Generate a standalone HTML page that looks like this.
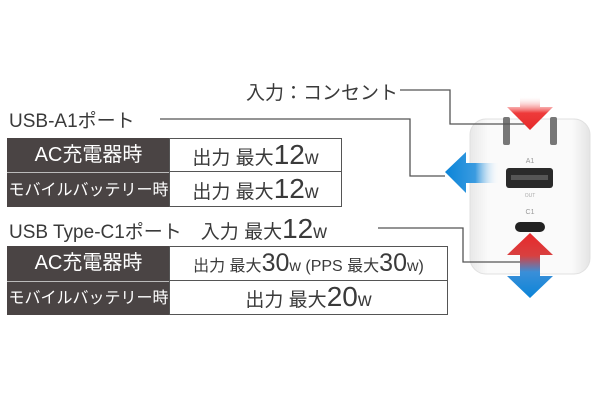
<!DOCTYPE html>
<html><head><meta charset="utf-8"><style>
body{margin:0;width:600px;height:400px;background:#fff;position:relative;overflow:hidden;font-family:"Liberation Sans","Noto Sans CJK JP",sans-serif;color:#3a3a3a}
.t{position:absolute;white-space:nowrap}
.dk{position:absolute;background:#4a4444;color:#fff;text-align:center;font-size:19px;box-sizing:border-box}
.wh{position:absolute;background:#fff;border:1.5px solid #555;text-align:center;box-sizing:border-box;color:#3a3a3a;font-size:19px}
.b{font-size:28px}
</style></head><body>
<svg width="600" height="400" style="position:absolute;left:0;top:0">
<defs>
<linearGradient id="bl" x1="0" x2="1"><stop offset="0" stop-color="#0a84d8"/><stop offset="0.55" stop-color="#3a9be0"/><stop offset="1" stop-color="#fff" stop-opacity="0"/></linearGradient>
<linearGradient id="rd" x1="0" y1="0" x2="0" y2="1"><stop offset="0" stop-color="#fff" stop-opacity="0"/><stop offset="0.5" stop-color="#ee3a3a"/><stop offset="1" stop-color="#e52a2a"/></linearGradient>
<linearGradient id="ud" x1="0" y1="0" x2="0" y2="1"><stop offset="0" stop-color="#e8282a"/><stop offset="0.35" stop-color="#d84040"/><stop offset="0.6" stop-color="#3a8fd8"/><stop offset="1" stop-color="#0a84d8"/></linearGradient>
<linearGradient id="body" x1="0" x2="1"><stop offset="0" stop-color="#e8e8e8"/><stop offset="0.15" stop-color="#fafafa"/><stop offset="0.85" stop-color="#fafafa"/><stop offset="1" stop-color="#e4e4e4"/></linearGradient>
</defs>
<rect x="470" y="119" width="120" height="155" rx="16" fill="url(#body)" stroke="#e0e0e0"/>
<rect x="503" y="117" width="7" height="28" rx="2" fill="#777"/>
<rect x="550" y="117" width="7" height="28" rx="2" fill="#777"/>
<text x="530" y="163" font-size="7" fill="#999" text-anchor="middle" font-family="Liberation Sans">A1</text>
<rect x="506" y="168" width="47" height="20" rx="3" fill="#2a2a2a"/>
<rect x="511" y="175" width="37" height="5" fill="#555"/>
<text x="530" y="197" font-size="5" fill="#aaa" text-anchor="middle" font-family="Liberation Sans">OUT</text>
<text x="530" y="214" font-size="7" fill="#999" text-anchor="middle" font-family="Liberation Sans">C1</text>
<rect x="515" y="222" width="30" height="10" rx="5" fill="#222"/>
<polyline points="400,90 450,90 450,124 525,124" fill="none" stroke="#555" stroke-width="1.3"/>
<polyline points="160,119 410,119 410,176 445,176" fill="none" stroke="#555" stroke-width="1.3"/>
<polyline points="378,228 463,228 463,262 520,262" fill="none" stroke="#555" stroke-width="1.3"/>
<polygon points="520,96 540,96 540,107 553,107 530,130 507,107 520,107" fill="url(#rd)"/>
<polygon points="445,172 466,152 466,163 500,163 500,183 466,183 466,193" fill="url(#bl)"/>
<polygon points="530,233 553,255 540,255 540,276 553,276 530,298 507,276 520,276 520,255 507,255" fill="url(#ud)"/>
</svg>
<div class="t" style="left:246px;top:78px;font-size:19px">入力：コンセント</div>
<div class="t" style="left:9px;top:106px;font-size:19px">USB-A1ポート</div>
<div class="dk" style="left:7px;top:138px;width:163px;height:34px;line-height:34px;font-size:20px">AC充電器時</div>
<div class="dk" style="left:7px;top:172px;width:163px;height:35px;line-height:35px;font-size:16px;border-top:1.5px solid #bbb">モバイルバッテリー時</div>
<div class="wh" style="left:169px;top:138px;width:173px;height:35px;line-height:32px">出力 最大<span class="b">12</span>w</div>
<div class="wh" style="left:169px;top:171px;width:173px;height:36px;line-height:33px">出力 最大<span class="b">12</span>w</div>
<div class="t" style="left:9px;top:213px;font-size:19px">USB Type-C1ポート　入力 最大<span style="font-size:28px">12</span>w</div>
<div class="dk" style="left:7px;top:246px;width:163px;height:35px;line-height:35px;font-size:20px">AC充電器時</div>
<div class="dk" style="left:7px;top:281px;width:163px;height:34px;line-height:34px;font-size:16px;border-top:1.5px solid #bbb">モバイルバッテリー時</div>
<div class="wh" style="left:169px;top:246px;width:279px;height:36px;line-height:33px;font-size:16px">出力 最大<span style="font-size:25px">30</span>w (PPS 最大<span style="font-size:25px">30</span>w)</div>
<div class="wh" style="left:169px;top:280px;width:279px;height:35px;line-height:32px">出力 最大<span class="b">20</span>w</div>
</body></html>
